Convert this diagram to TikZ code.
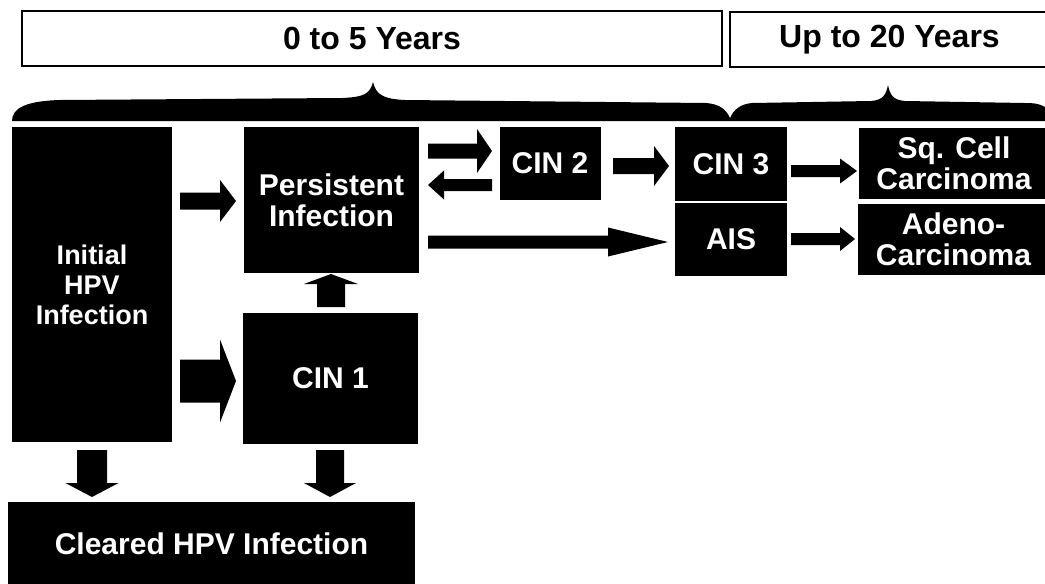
\documentclass[tikz,border=0pt]{standalone}
\usepackage{fontspec}
\setmainfont{Liberation Sans}
\usetikzlibrary{calc}
\tikzset{
  blk/.style={fill=black, text=white, inner sep=0pt, align=center,
    font=\bfseries\fontsize{30}{31}\selectfont},
  lbl/.style={draw=black, line width=1.4pt, inner sep=0pt,
    font=\bfseries\fontsize{32}{36}\selectfont},
  rarrow/.style n args={3}{to path={let \p1=(\tikztostart), \p2=(\tikztotarget) in
    (\x1,\y1+#1) -- (\x2-#3,\y1+#1) -- (\x2-#3,\y1+#2) -- (\x2,\y1)
    -- (\x2-#3,\y1-#2) -- (\x2-#3,\y1-#1) -- (\x1,\y1-#1) -- cycle}},
  larrow/.style n args={3}{to path={let \p1=(\tikztostart), \p2=(\tikztotarget) in
    (\x1,\y1+#1) -- (\x2+#3,\y1+#1) -- (\x2+#3,\y1+#2) -- (\x2,\y1)
    -- (\x2+#3,\y1-#2) -- (\x2+#3,\y1-#1) -- (\x1,\y1-#1) -- cycle}},
  uarrow/.style n args={3}{to path={let \p1=(\tikztostart), \p2=(\tikztotarget) in
    (\x1+#1,\y1) -- (\x1+#1,\y2-#3) -- (\x1+#2,\y2-#3) -- (\x1,\y2)
    -- (\x1-#2,\y2-#3) -- (\x1-#1,\y2-#3) -- (\x1-#1,\y1) -- cycle}},
  darrow/.style n args={3}{to path={let \p1=(\tikztostart), \p2=(\tikztotarget) in
    (\x1+#1,\y1) -- (\x1+#1,\y2+#3) -- (\x1+#2,\y2+#3) -- (\x1,\y2)
    -- (\x1-#2,\y2+#3) -- (\x1-#1,\y2+#3) -- (\x1-#1,\y1) -- cycle}},
}
\begin{document}
\begin{tikzpicture}[x=1pt,y=-1pt]
\useasboundingbox (0,0) rectangle (1045,584);

% period labels
\node[lbl, minimum width=700pt, minimum height=55pt] (early) at (372,38.5) {0 to 5 Years};
\node[lbl, minimum width=319pt, minimum height=55pt] (late) at (889.5,39.5) {Up to 20 Years};

% braces
\fill[black] (12,121) -- (1045,121) -- (1045,107)
  .. controls (1040,104) and (1035,103) .. (1025,103)
  -- (905,101) .. controls (893,100) and (890,95) .. (888,85)
  .. controls (886,95) and (883,100) .. (871,101)
  -- (752,103) .. controls (741,104) and (734,109) .. (730,118)
  .. controls (726,109) and (719,104) .. (706,103)
  -- (405,100) .. controls (382,99) and (376,94) .. (373,82)
  .. controls (370,94) and (364,97) .. (342,98)
  -- (60,100) .. controls (26,101) and (12,108) .. (12,121) -- cycle;

% stage boxes
\node[blk, minimum width=160pt, minimum height=315pt,
  font=\bfseries\fontsize{27}{30}\selectfont] (init) at (92,284.5) {Initial\\HPV\\Infection};
\node[blk, minimum width=175pt, minimum height=146pt] (pers) at (331.5,200) {Persistent\\Infection};
\node[blk, minimum width=175pt, minimum height=131pt] (cin1) at (330.5,378.5) {CIN 1};
\node[blk, minimum width=101pt, minimum height=73pt] (cin2) at (550,163.5) {CIN 2};
\node[blk, minimum width=112pt, minimum height=74pt] (cin3) at (731,164) {CIN 3};
\node[blk, minimum width=112pt, minimum height=73pt] (ais) at (731,239.5) {AIS};
\node[blk, minimum width=190pt, minimum height=71pt] (sq) at (954,163.5) {Sq. Cell\\Carcinoma};
\node[blk, minimum width=191pt, minimum height=71pt] (adeno) at (953.5,239.5) {Adeno-\\Carcinoma};
\node[blk, minimum width=407pt, minimum height=84pt] (cleared) at (211.5,544) {Cleared HPV Infection};

% arrow end points
\coordinate (a1s) at (180,201);  \coordinate (a1e) at (236,201);
\coordinate (a2s) at (180,381);  \coordinate (a2e) at (236,381);
\coordinate (a3s) at (331,307);  \coordinate (a3e) at (331,274);
\coordinate (a4s) at (92,450);   \coordinate (a4e) at (92,497);
\coordinate (a5s) at (330,450);  \coordinate (a5e) at (330,497);
\coordinate (a6s) at (428,151);  \coordinate (a6e) at (492,151);
\coordinate (a7s) at (492,185);  \coordinate (a7e) at (428,185);
\coordinate (a8s) at (613,166);  \coordinate (a8e) at (669,166);
\coordinate (a9s) at (428,242);  \coordinate (a9e) at (668,242);
\coordinate (a10s) at (791,171); \coordinate (a10e) at (857,171);
\coordinate (a11s) at (791,239); \coordinate (a11e) at (855,239);

% block arrows
\fill[rarrow={8.5}{21}{16}] (a1s) to (a1e);
\fill[rarrow={21.5}{41.5}{16}] (a2s) to (a2e);
\fill[uarrow={14}{27}{10}] (a3s) to (a3e);
\fill[darrow={15}{26.5}{14}] (a4s) to (a4e);
\fill[darrow={14}{26}{14}] (a5s) to (a5e);
\fill[rarrow={7.5}{22}{15}] (a6s) to (a6e);
\fill[larrow={6}{14.5}{16}] (a7s) to (a7e);
\fill[rarrow={8}{20}{15}] (a8s) to (a8e);
\fill[rarrow={6.5}{14.5}{60}] (a9s) to (a9e);
\fill[rarrow={6}{12.5}{17}] (a10s) to (a10e);
\fill[rarrow={6}{12}{15}] (a11s) to (a11e);
\end{tikzpicture}
\end{document}
